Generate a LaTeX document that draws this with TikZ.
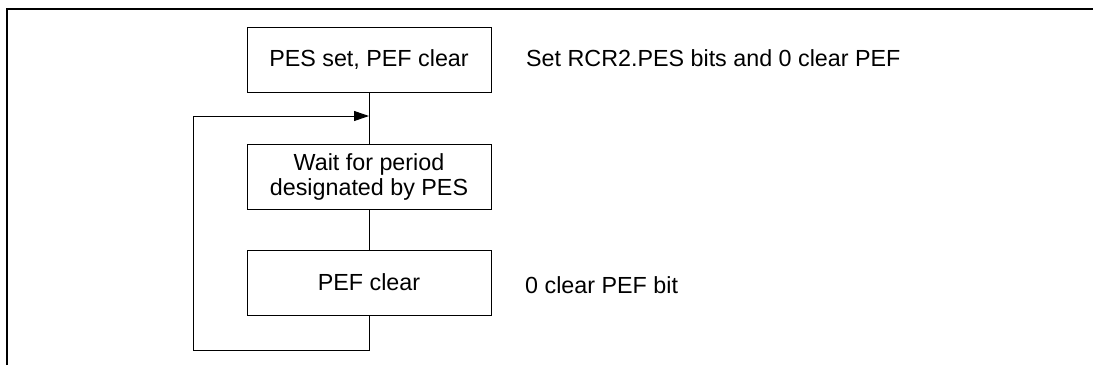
\documentclass[tikz,border=0pt]{standalone}
\usepackage{fontspec}
\setmainfont{Liberation Sans}
\usetikzlibrary{arrows.meta}
\begin{document}
\begin{tikzpicture}[x=1pt,y=-1pt,
  stepbox/.style={draw, line width=1pt, minimum width=244pt, minimum height=65pt, inner sep=0pt, align=center, font=\fontsize{23.3}{25}\selectfont},
  note/.style={anchor=base west, inner sep=0pt, font=\fontsize{23.3}{25}\selectfont},
  conn/.style={line width=1pt},
  every node/.style={text=black}]
\useasboundingbox (0,0) rectangle (1093,365);
\draw[line width=1.2pt] (7,365) -- (7,9) -- (1093,9);
\node[stepbox] (b1) at (369,59.5) {PES set, PEF clear};
\node[stepbox] (b2) at (369,176.5) {Wait for period\\designated by PES};
\node[stepbox] (b3) at (369,282.5) {PEF clear};
\node[note] (n1) at (526,66.7) {Set RCR2.PES bits and 0 clear PEF};
\node[note] (n2) at (525,293.3) {0 clear PEF bit};
\coordinate (j) at (369,116);
\coordinate (c1) at (369,350);
\coordinate (c2) at (193,350);
\coordinate (c3) at (193,116);
\draw[conn] (b1.south) -- (b2.north);
\draw[conn] (b2.south) -- (b3.north);
\draw[conn, -{Triangle[length=15pt,width=10pt]}] (b3.south) -- (c1) -- (c2) -- (c3) -- (j);
\end{tikzpicture}
\end{document}
